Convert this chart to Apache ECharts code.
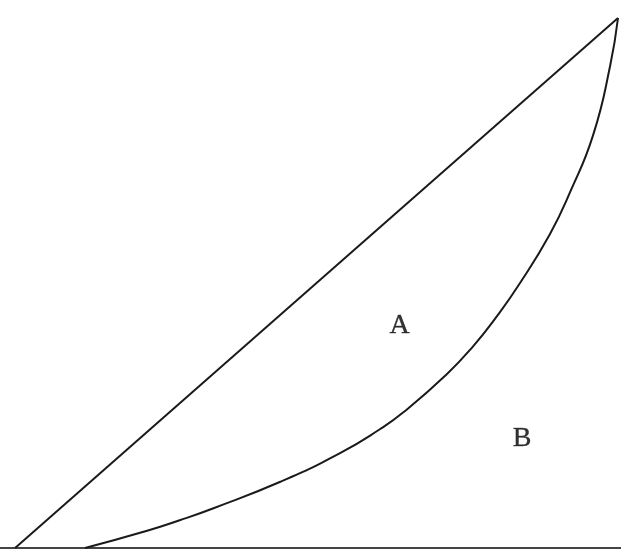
<!DOCTYPE html>
<html>
<head>
<meta charset="utf-8">
<script src="https://cdn.jsdelivr.net/npm/echarts@6/dist/echarts.min.js"></script>
<style>html,body{margin:0;padding:0;background:#fff;}#c{width:621px;height:550px;}</style>
</head>
<body>
<div id="c"></div>
<script>
// Equality line (straight diagonal)
var equalityX = [0, 100];
var equalityY = [0, 100];
// Lorenz curve
var curveX = [11.6, 21.9, 27.3, 32.8, 44.0, 53.9, 60.5, 64.4, 71.6, 76.0, 79.9, 83.7, 88.7, 92.0, 95.9, 98.7, 100];
var curveY = [0, 3.25, 5.23, 7.46, 12.5, 17.9, 22.4, 25.6, 32.8, 38.1, 43.7, 49.9, 59.2, 67.0, 78.0, 91.0, 100];
// Region labels
var labelNames = ['A', 'B'];
var labelX = [63.8, 84.1];
var labelY = [42.0, 20.6];

function pairs(xs, ys) { return xs.map(function (x, i) { return [x, ys[i]]; }); }

var chart = echarts.init(document.getElementById('c'));
chart.setOption({
  animation: false,
  grid: { left: 0, right: 0, top: 18, bottom: 2 },
  xAxis: { type: 'value', min: -2.5, max: 100.5, axisLine: { show: true, lineStyle: { color: '#444', width: 2 } },
           axisTick: { show: false }, axisLabel: { show: false }, splitLine: { show: false } },
  yAxis: { type: 'value', min: 0, max: 100, axisLine: { show: false }, axisTick: { show: false },
           axisLabel: { show: false }, splitLine: { show: false } },
  series: [
    { type: 'line', data: pairs(equalityX, equalityY), symbol: 'none',
      lineStyle: { color: '#1a1a1a', width: 2 } },
    { type: 'line', data: pairs(curveX, curveY), symbol: 'none', smooth: 0.5,
      lineStyle: { color: '#1a1a1a', width: 2 } },
    { type: 'scatter', data: pairs(labelX, labelY).map(function (p, i) { return { value: p, name: labelNames[i] }; }),
      symbolSize: 0,
      label: { show: true, position: 'inside', formatter: '{b}', fontFamily: 'Liberation Serif', fontSize: 28, color: '#000',
               textBorderColor: '#333', textBorderWidth: 0.4 } }
  ]
});
</script>
</body>
</html>
